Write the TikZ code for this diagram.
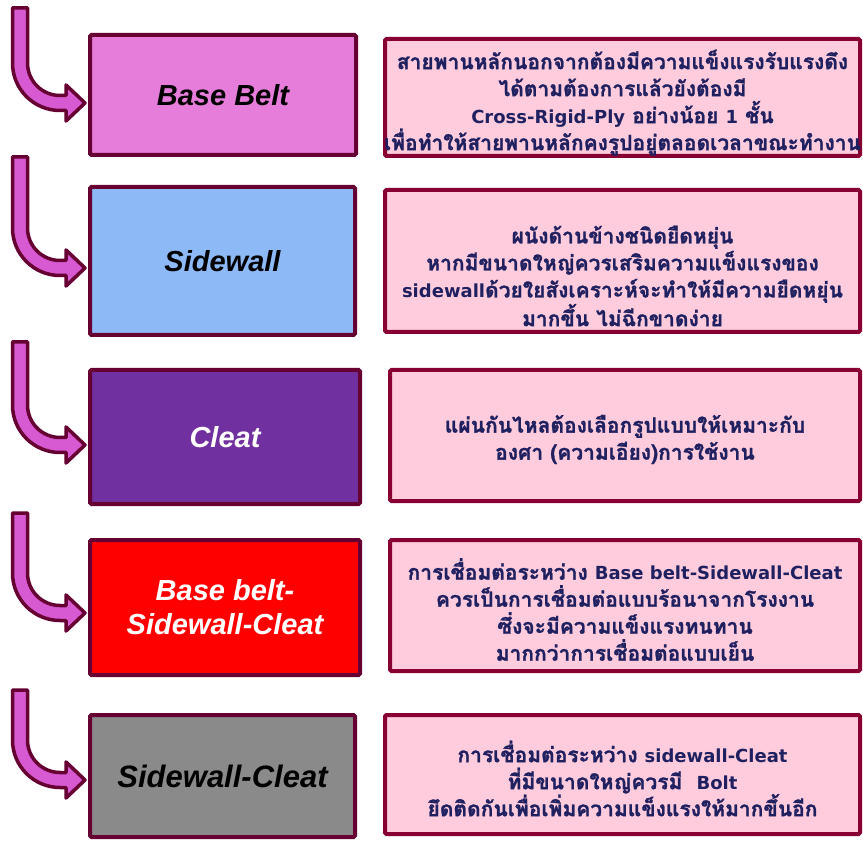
\documentclass[tikz,border=0pt]{standalone}
\usepackage{fontspec}
\setmainfont{Liberation Sans}
\newfontfamily\thaifont[Script=Thai, BoldFeatures={FakeBold=1.2}]{Loma}
\newfontfamily\latfont{DejaVu Sans}
\newcommand{\lt}[1]{{\latfont\fontsize{18}{27}\selectfont\bfseries #1}}
\definecolor{outl}{HTML}{660033}
\definecolor{routl}{HTML}{880033}
\definecolor{arrfill}{HTML}{D85AD2}
\definecolor{cpink}{HTML}{E67DDB}
\definecolor{cblue}{HTML}{8DB9F7}
\definecolor{cpurple}{HTML}{7030A0}
\definecolor{cred}{HTML}{FF0000}
\definecolor{cgray}{HTML}{8A8A8A}
\definecolor{rfill}{HTML}{FFCCDD}
\definecolor{navy}{HTML}{1F2060}
\tikzset{
  lbox/.style={draw=outl, line width=4pt, rounded corners=1.5pt, inner sep=0pt,
    font=\fontsize{29}{34}\selectfont\bfseries\itshape, align=center},
  rbox/.style={draw=routl, line width=4pt, fill=rfill, rounded corners=1.5pt, inner sep=0pt},
  rtext/.style={text=navy, align=center, inner sep=0pt,
    font=\thaifont\fontsize{21}{27}\selectfont\bfseries},
  arrowsty/.style={draw=outl, fill=arrfill, line width=3.5pt, line join=round}
}
\newcommand{\bentarrow}[2]{%
  \draw[arrowsty] (12.5,-#1) -- (12.5,{-(#2-40)})
    arc[start angle=180,end angle=270,radius=47.5]
    -- (66,{-(#2+7.5)}) -- (66,{-(#2+18)}) -- (85,-#2) -- (66,{-(#2-18)})
    -- (66,{-(#2-7.5)}) -- (60,{-(#2-7.5)})
    arc[start angle=270,end angle=180,radius=32.5]
    -- (27.5,-#1) -- cycle;}
\begin{document}
\begin{tikzpicture}[x=1pt,y=1pt]
\useasboundingbox (0,0) rectangle (863,-842);
% left boxes
\node[lbox, fill=cpink, minimum width=266pt, minimum height=120pt, text=black] (l1) at (223,-95) {Base Belt};
\node[lbox, fill=cblue, minimum width=265pt, minimum height=148pt, text=black] (l2) at (222.5,-261) {Sidewall};
\node[lbox, fill=cpurple, minimum width=270pt, minimum height=134pt, text=white] (l3) at (225,-437) {Cleat};
\node[lbox, fill=cred, minimum width=270pt, minimum height=135pt, text=white] (l4) at (225,-607.5) {Base belt-\\Sidewall-Cleat};
\node[lbox, fill=cgray, minimum width=265pt, minimum height=122pt, text=black, font=\fontsize{31}{36}\selectfont\bfseries\itshape] (l5) at (222.5,-776) {Sidewall-Cleat};
% right boxes
\node[rbox, minimum width=475pt, minimum height=117pt] (r1) at (622.5,-97.5) {};
\node[rbox, minimum width=475pt, minimum height=142pt] (r2) at (622.5,-261) {};
\node[rbox, minimum width=470pt, minimum height=131pt] (r3) at (625,-435.5) {};
\node[rbox, minimum width=470pt, minimum height=131pt] (r4) at (625,-605.5) {};
\node[rbox, minimum width=475pt, minimum height=119pt] (r5) at (622.5,-774.5) {};
% texts
\node[rtext] (t1) at ([yshift=-5pt]r1.center) {สายพานหลักนอกจากต้องมีความแข็งแรงรับแรงดึง\\ได้ตามต้องการแล้วยังต้องมี\\\lt{Cross-Rigid-Ply} อย่างน้อย \lt{1} ชั้น\\เพื่อทำให้สายพานหลักคงรูปอยู่ตลอดเวลาขณะทำงาน};
\node[rtext] (t2) at ([yshift=-15pt]r2.center) {ผนังด้านข้างชนิดยืดหยุ่น\\หากมีขนาดใหญ่ควรเสริมความแข็งแรงของ\\\lt{sidewall}ด้วยใยสังเคราะห์จะทำให้มีความยืดหยุ่น\\มากขึ้น ไม่ฉีกขาดง่าย};
\node[rtext] (t3) at ([yshift=-4pt]r3.center) {แผ่นกันไหลต้องเลือกรูปแบบให้เหมาะกับ\\องศา (ความเอียง)การใช้งาน};
\node[rtext] (t4) at ([yshift=-4pt]r4.center) {การเชื่อมต่อระหว่าง \lt{Base belt-Sidewall-Cleat}\\ควรเป็นการเชื่อมต่อแบบร้อนาจากโรงงาน\\ซึ่งจะมีความแข็งแรงทนทาน\\มากกว่าการเชื่อมต่อแบบเย็น};
\node[rtext] (t5) at ([yshift=-4pt]r5.center) {การเชื่อมต่อระหว่าง \lt{sidewall-Cleat}\\ที่มีขนาดใหญ่ควรมี\ \ \lt{Bolt}\\ยึดติดกันเพื่อเพิ่มความแข็งแรงให้มากขึ้นอีก};
% bent arrows
\bentarrow{8}{103}
\bentarrow{157}{268}
\bentarrow{342}{445}
\bentarrow{513}{613}
\bentarrow{690}{780}
\end{tikzpicture}
\end{document}
